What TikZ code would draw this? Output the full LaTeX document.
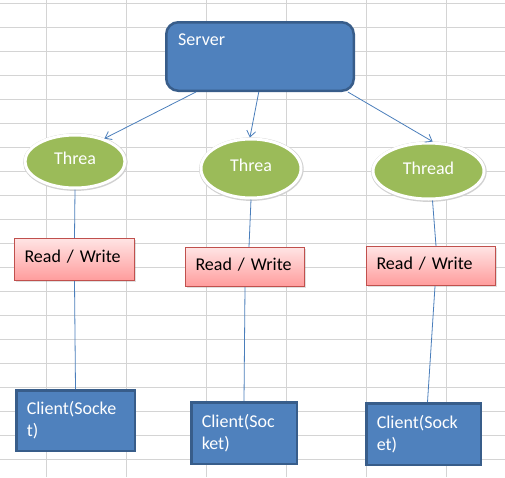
\documentclass[tikz,border=0pt]{standalone}
\usepackage{fontspec}
\setmainfont{Carlito}
\usepackage{tikz}
\usetikzlibrary{arrows.meta,shapes.geometric,shadows}
\usepackage{xcolor}
\definecolor{srvblue}{HTML}{4F81BD}
\definecolor{srvedge}{HTML}{385D8A}
\definecolor{thgreen}{HTML}{9BBB59}
\definecolor{rwedge}{HTML}{C0504D}
\definecolor{rwtop}{HTML}{FFE4E4}
\definecolor{rwbot}{HTML}{FF9C9C}
\definecolor{gridgray}{HTML}{D4D4D4}
\definecolor{linkblue}{HTML}{4A7EBB}

\begin{document}
\begin{tikzpicture}[x=1pt, y=-1pt, every node/.style={font=\fontsize{18}{22}\selectfont}]
\tikzset{server/.style={draw=srvedge, line width=2.5pt, fill=srvblue, rounded corners=12pt, minimum width=187.5pt, minimum height=68.5pt, inner sep=0pt},
  thread/.style={ellipse, draw=white, line width=3pt, fill=thgreen, text=white, inner sep=0pt, text depth=6pt, preaction={draw=black!18, line width=4.6pt, transform canvas={xshift=0.4pt, yshift=-0.6pt}}},
  rwbox/.style={draw=rwedge, line width=1.2pt, top color=rwtop, bottom color=rwbot, text=black, align=left, inner xsep=10pt, inner ysep=0pt, text depth=6pt, text width=#1, drop shadow={opacity=0.25, shadow xshift=1pt, shadow yshift=-1.2pt}},
  client/.style={draw=srvedge, line width=2.5pt, fill=srvblue, text=white, align=left, inner xsep=10.5pt, inner ysep=0pt, text width=#1},
  link/.style={draw=linkblue, line width=0.8pt},
  arrow/.style={link, -{Straight Barb[length=6pt,width=9pt]}}}
\useasboundingbox (0,0) rectangle (505,477);
\fill[white] (0,0) rectangle (505,477);
\foreach \x in {46.7,126.7,...,446.7}
  \draw[gridgray, line width=1pt] (\x,0) -- (\x,477);
\foreach \y in {3.3,27.3,...,476}
  \draw[gridgray, line width=1pt] (0,\y) -- (505,\y);

\node[server, label={[anchor=north west, inner sep=0pt, text=white, xshift=13pt, yshift=-12.5pt]north west:Server}] (srv) at (260,56.5) {};

\node[thread, minimum width=100pt, minimum height=53pt] (t1) at (75,161.5) {Threa};
\node[thread, minimum width=100pt, minimum height=59pt] (t2) at (251,168.5) {Threa};
\node[thread, minimum width=111pt, minimum height=56pt] (t3) at (428.5,171) {Thread};

\node[rwbox=100pt, minimum height=42pt] (rw1) at (74.5,259.5) {Read / Write};
\node[rwbox=99pt, minimum height=39pt] (rw2) at (245,267) {Read / Write};
\node[rwbox=109pt, minimum height=39pt] (rw3) at (431,266) {Read / Write};

\node[client=97.5pt, minimum height=60.5pt] (c1) at (75.5,420.5) {Client(Socke\\t)};
\node[client=84.5pt, minimum height=61.5pt] (c2) at (244,433) {Client(Soc\\ket)};
\node[client=93.5pt, minimum height=61.5pt] (c3) at (423.5,434) {Client(Sock\\et)};

\draw[arrow] (srv.209) -- (t1.38);
\draw[arrow] (srv.268) -- (t2.92);
\draw[arrow] (srv.338) -- (t3.82);
\draw[link] (t1.south) -- (rw1.north);
\draw[link] (rw1.south) -- (c1.north);
\draw[link] (t2.south) -- ([xshift=4pt]rw2.north);
\draw[link] (rw2.south) -- (c2.north);
\draw[link] ([xshift=4pt]t3.south) -- ([xshift=5pt]rw3.north);
\draw[link] ([xshift=4pt]rw3.south) -- ([xshift=4pt]c3.north);
\end{tikzpicture}
\end{document}
